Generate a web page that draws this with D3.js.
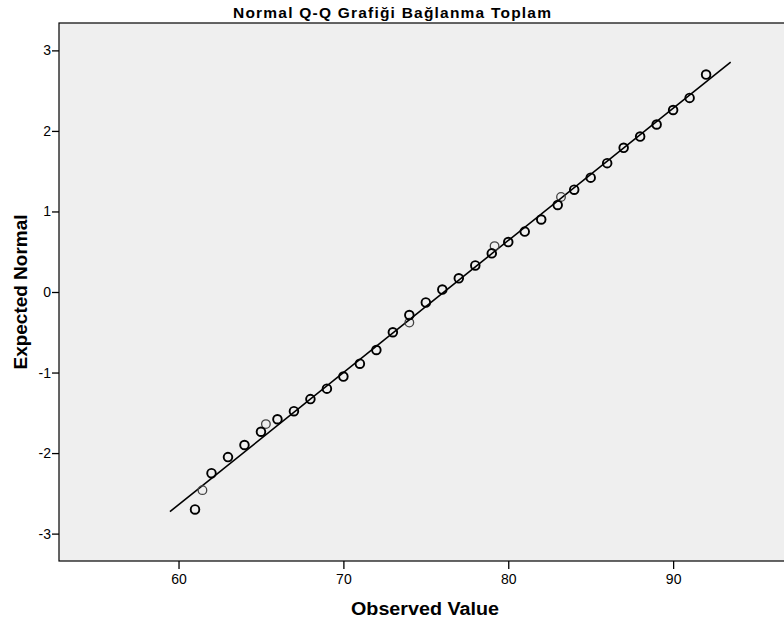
<!DOCTYPE html>
<html>
<head>
<meta charset="utf-8">
<script src="https://cdn.jsdelivr.net/npm/d3@7"></script>
<style>
  html, body { margin: 0; padding: 0; background: #ffffff; }
  svg { display: block; font-family: "Liberation Sans", Arial, sans-serif; }
</style>
</head>
<body>
<svg id="chart" width="784" height="631"></svg>
<script>
// ---- data ----
const title = "Normal Q-Q Grafiği Bağlanma Toplam";
const xLabel = "Observed Value";
const yLabel = "Expected Normal";

const xDomain = [52.75, 97.15];
const yDomain = [-3.34, 3.34];
const xTicks = [60, 70, 80, 90];
const yTicks = [-3, -2, -1, 0, 1, 2, 3];

// observed values and expected normal quantiles
const observed = [61, 62, 63, 64, 65, 66, 67, 68, 69, 70, 71, 72, 73, 74, 75, 76,
                  77, 78, 79, 80, 81, 82, 83, 84, 85, 86, 87, 88, 89, 90, 91, 92];
const expected = [-2.70, -2.25, -2.05, -1.90, -1.735, -1.58, -1.48, -1.33, -1.20, -1.05,
                  -0.89, -0.72, -0.50, -0.286, -0.13, 0.03, 0.17, 0.33, 0.48, 0.62,
                  0.75, 0.90, 1.08, 1.27, 1.42, 1.60, 1.79, 1.93, 2.08, 2.26, 2.41, 2.70];
// fainter overlapping points
const observed2 = [61.45, 65.3, 74, 79.17, 83.2];
const expected2 = [-2.46, -1.64, -0.38, 0.57, 1.18];

// reference line end points
const lineX = [59.48, 93.49];
const lineY = [-2.727, 2.853];

// ---- drawing ----
const svg = d3.select("#chart");
const plot = { left: 59, top: 23, right: 791, bottom: 561 };

const x = d3.scaleLinear().domain(xDomain).range([plot.left, plot.right]);
const y = d3.scaleLinear().domain(yDomain).range([plot.bottom, plot.top]);

svg.append("rect")
  .attr("x", plot.left).attr("y", plot.top)
  .attr("width", plot.right - plot.left).attr("height", plot.bottom - plot.top)
  .attr("fill", "#efefef").attr("stroke", "#000").attr("stroke-width", 1.2);

// axes
const xAxis = svg.append("g")
  .attr("transform", `translate(0,${plot.bottom})`)
  .call(d3.axisBottom(x).tickValues(xTicks).tickSize(8).tickPadding(5).tickFormat(d3.format("d")));
const yAxis = svg.append("g")
  .attr("transform", `translate(${plot.left},0)`)
  .call(d3.axisLeft(y).tickValues(yTicks).tickSize(7).tickPadding(1).tickFormat(d => d < 0 ? "-" + Math.abs(d) : String(d)));

[xAxis, yAxis].forEach(g => {
  g.select(".domain").remove();
  g.selectAll(".tick line").attr("stroke", "#000").attr("stroke-width", 1.3);
  g.selectAll(".tick text").attr("fill", "#000").attr("font-size", 14)
    .attr("font-family", "'Liberation Sans Narrow', 'Liberation Sans', Arial, sans-serif");
});

// reference line
svg.append("line")
  .attr("x1", x(lineX[0])).attr("y1", y(lineY[0]))
  .attr("x2", x(lineX[1])).attr("y2", y(lineY[1]))
  .attr("stroke", "#000").attr("stroke-width", 1.6);

// fainter points
svg.append("g").selectAll("circle")
  .data(observed2.map((v, i) => [v, expected2[i]]))
  .join("circle")
  .attr("cx", d => x(d[0])).attr("cy", d => y(d[1])).attr("r", 4.3)
  .attr("fill", "none").attr("stroke", "#444").attr("stroke-width", 1.3);

// points
svg.append("g").selectAll("circle")
  .data(observed.map((v, i) => [v, expected[i]]))
  .join("circle")
  .attr("cx", d => x(d[0])).attr("cy", d => y(d[1])).attr("r", 4.3)
  .attr("fill", "none").attr("stroke", "#000").attr("stroke-width", 1.9);

// title
svg.append("text")
  .attr("x", 392).attr("y", 18).attr("text-anchor", "middle")
  .attr("font-size", 15.5).attr("font-weight", "bold")
  .attr("textLength", 318).attr("lengthAdjust", "spacing")
  .text(title);

// x label
svg.append("text")
  .attr("x", 425).attr("y", 615).attr("text-anchor", "middle")
  .attr("font-size", 18).attr("font-weight", "bold")
  .attr("textLength", 148).attr("lengthAdjust", "spacingAndGlyphs")
  .text(xLabel);

// y label
svg.append("text")
  .attr("transform", "translate(27,292) rotate(-90)")
  .attr("text-anchor", "middle")
  .attr("font-size", 18).attr("font-weight", "bold")
  .attr("textLength", 155).attr("lengthAdjust", "spacingAndGlyphs")
  .text(yLabel);
</script>
</body>
</html>
